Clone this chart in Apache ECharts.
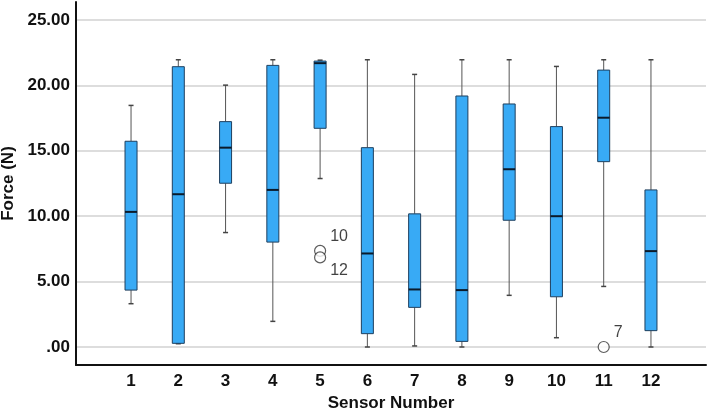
<!DOCTYPE html>
<html>
<head>
<meta charset="utf-8">
<script src="https://cdn.jsdelivr.net/npm/echarts@6/dist/echarts.min.js"></script>
<style>html,body{margin:0;padding:0;background:#fff}#c{width:709px;height:414px}</style>
</head>
<body>
<div id="c"></div>
<script>
// Sensor categories
const categories = ['1','2','3','4','5','6','7','8','9','10','11','12'];
// Box statistics per sensor (Force, N)
const whiskerLow = [3.31, 0.25, 8.75, 1.96, 12.88, 0.00, 0.08, 0.00, 3.95, 0.71, 4.63, 0.00];
const q1Values   = [4.35, 0.28, 12.52, 8.02, 16.72, 1.02, 3.03, 0.43, 9.69, 3.84, 14.17, 1.25];
const medians    = [10.33, 11.68, 15.24, 12.01, 21.70, 7.15, 4.40, 4.35, 13.59, 10.00, 17.53, 7.33];
const q3Values   = [15.73, 21.43, 17.23, 21.53, 21.86, 15.24, 10.18, 19.19, 18.58, 16.85, 21.17, 12.01];
const whiskerHigh= [18.47, 21.96, 20.02, 21.96, 21.93, 21.96, 20.84, 21.96, 21.96, 21.45, 21.96, 21.96];
// Outliers: sensor, value, case label
const outlierSensor = ['5', '5', '11'];
const outlierValue  = [7.35, 6.85, 0.00];
const outlierLabel  = ['10', '12', '7'];
const yTicks = [0, 5, 10, 15, 20, 25];

const FONT = "'Liberation Sans', Arial, sans-serif";

const boxData = categories.map((c, i) => [i, whiskerLow[i], q1Values[i], medians[i], q3Values[i], whiskerHigh[i]]);
const outData = outlierSensor.map((s, i) => ({
  value: [categories.indexOf(s), outlierValue[i]],
  label: {
    show: true, formatter: outlierLabel[i], position: 'right', distance: 4,
    offset: [0, i === 1 ? 13 : -14], fontSize: 16, color: '#111', fontFamily: FONT
  }
}));

function renderItem(params, api) {
  const x = api.value(0);
  const lo = api.coord([x, api.value(1)]);
  const q1 = api.coord([x, api.value(2)]);
  const md = api.coord([x, api.value(3)]);
  const q3 = api.coord([x, api.value(4)]);
  const hi = api.coord([x, api.value(5)]);
  const band = api.size([1, 0])[0];
  const bw = band * 0.254, cw = band * 0.106;
  const cx = lo[0];
  const wStyle = { stroke: '#555', lineWidth: 1 };
  const cStyle = { stroke: '#444', lineWidth: 1.5 };
  return {
    type: 'group',
    children: [
      { type: 'line', shape: { x1: cx, y1: hi[1], x2: cx, y2: q3[1] }, style: wStyle },
      { type: 'line', shape: { x1: cx, y1: q1[1], x2: cx, y2: lo[1] }, style: wStyle },
      { type: 'line', shape: { x1: cx - cw / 2, y1: hi[1], x2: cx + cw / 2, y2: hi[1] }, style: cStyle },
      { type: 'line', shape: { x1: cx - cw / 2, y1: lo[1], x2: cx + cw / 2, y2: lo[1] }, style: cStyle },
      { type: 'rect', shape: { x: cx - bw / 2, y: q3[1], width: bw, height: q1[1] - q3[1] },
        style: { fill: '#38aaf5', stroke: '#1e3f5e', lineWidth: 1 } },
      { type: 'line', shape: { x1: cx - bw / 2, y1: md[1], x2: cx + bw / 2, y2: md[1] },
        style: { stroke: '#0b1a2a', lineWidth: 2 } }
    ]
  };
}

const chart = echarts.init(document.getElementById('c'), null, { renderer: 'canvas' });
chart.setOption({
  animation: false,
  backgroundColor: '#fff',
  grid: [
    { left: 76, right: 3, top: 2, bottom: 49, containLabel: false, outerBoundsMode: 'none' },
    { left: 76, right: 3, top: 20, bottom: 67, containLabel: false, outerBoundsMode: 'none' },
    { left: 107.4, right: 34.4, top: 20, bottom: 67, containLabel: false, outerBoundsMode: 'none' }
  ],
  xAxis: [
    { gridIndex: 0, type: 'value', min: 0, max: 1, axisLine: { show: true, lineStyle: { color: '#111', width: 2 } },
      axisTick: { show: false }, axisLabel: { show: false }, splitLine: { show: false } },
    { gridIndex: 1, type: 'value', min: 0, max: 1, show: false },
    { gridIndex: 2, type: 'category', data: categories, boundaryGap: true,
      axisLine: { show: false }, axisTick: { show: false },
      axisLabel: { fontSize: 17, fontWeight: 'bold', color: '#111', fontFamily: FONT, margin: 26 },
      name: 'Sensor Number', nameLocation: 'middle', nameGap: 47,
      nameTextStyle: { fontSize: 17, fontWeight: 'bold', color: '#111', fontFamily: FONT } }
  ],
  yAxis: [
    { gridIndex: 0, type: 'value', min: 0, max: 1, axisLine: { show: true, lineStyle: { color: '#111', width: 2 } },
      axisTick: { show: false }, axisLabel: { show: false }, splitLine: { show: false } },
    { gridIndex: 1, type: 'value', min: yTicks[0], max: yTicks[yTicks.length - 1], interval: 5,
      axisLine: { show: false }, axisTick: { show: false },
      axisLabel: { fontSize: 17, fontWeight: 'bold', color: '#111', fontFamily: FONT, margin: 6,
        formatter: v => v === 0 ? '.00' : v.toFixed(2) },
      splitLine: { show: true, lineStyle: { color: '#d2d2d2', width: 1.5 } },
      name: 'Force (N)', nameLocation: 'middle', nameGap: 53, nameRotate: 90,
      nameTextStyle: { fontSize: 17, fontWeight: 'bold', color: '#111', fontFamily: FONT } },
    { gridIndex: 2, type: 'value', min: yTicks[0], max: yTicks[yTicks.length - 1], show: false }
  ],
  series: [
    { type: 'custom', xAxisIndex: 2, yAxisIndex: 2, renderItem: renderItem,
      encode: { x: 0, y: [1, 2, 3, 4, 5] }, data: boxData, z: 3 },
    { type: 'scatter', xAxisIndex: 2, yAxisIndex: 2, symbol: 'circle', symbolSize: 11,
      itemStyle: { color: '#fff', borderColor: '#333', borderWidth: 1.2 }, data: outData, z: 4 }
  ]
});
</script>
</body>
</html>
